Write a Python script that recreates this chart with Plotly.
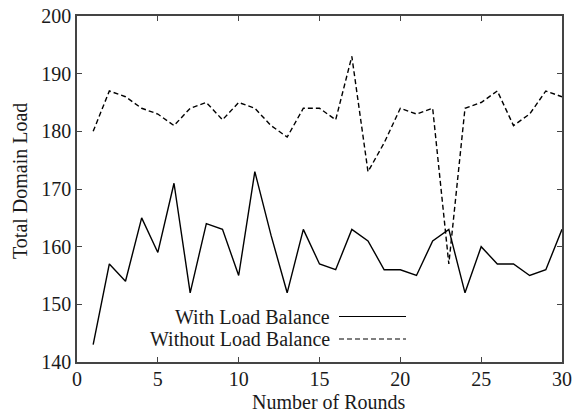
import plotly.graph_objects as go

rounds = list(range(1, 31))
with_lb = [143, 157, 154, 165, 159, 171, 152, 164, 163, 155,
           173, 162, 152, 163, 157, 156, 163, 161, 156, 156,
           155, 161, 163, 152, 160, 157, 157, 155, 156, 163]
without_lb = [180, 187, 186, 184, 183, 181, 184, 185, 182, 185,
              184, 181, 179, 184, 184, 182, 193, 173, 178, 184,
              183, 184, 157, 184, 185, 187, 181, 183, 187, 186]
series_names = ["With Load Balance", "Without Load Balance"]
x_ticks = [0, 5, 10, 15, 20, 25, 30]
y_ticks = [140, 150, 160, 170, 180, 190, 200]
x_title = "Number of Rounds"
y_title = "Total Domain Load"

FONT = "Liberation Serif"
FS = 20
TXT = "#1a1a1a"
fig = go.Figure()
fig.add_trace(go.Scatter(x=rounds, y=with_lb, mode="lines", name=series_names[0],
                         line=dict(color="black", width=1.4), showlegend=False))
fig.add_trace(go.Scatter(x=rounds, y=without_lb, mode="lines", name=series_names[1],
                         line=dict(color="black", width=1.4, dash="5px,3px"), showlegend=False))

axis_common = dict(showgrid=False, zeroline=False, showline=True, linecolor="#444",
                   linewidth=1.5, mirror="ticks", ticks="inside", ticklen=5,
                   tickcolor="#444", tickwidth=1, automargin=False,
                   tickfont=dict(family=FONT, size=FS, color=TXT))
fig.update_xaxes(range=[0, 30], tickvals=x_ticks, ticklabelstandoff=-2, **axis_common)
fig.update_yaxes(range=[140, 200], tickvals=y_ticks, **axis_common)

W, H = 573, 414
l, r, t, b = 77, 11, 16, 52
pw, ph = W - l - r, H - t - b
def px(xp):
    return (xp - l) / pw
def py(yp):
    return 1 - (yp - t) / ph

# axis titles placed as in the reference
fig.add_annotation(x=px(329), y=py(414), xref="paper", yref="paper", text=x_title,
                   showarrow=False, xanchor="center", yanchor="bottom", borderpad=0,
                   font=dict(family=FONT, size=FS, color=TXT))
fig.add_annotation(x=px(20), y=py(181), xref="paper", yref="paper", text=y_title,
                   showarrow=False, xanchor="center", yanchor="middle", textangle=-90,
                   font=dict(family=FONT, size=FS, color=TXT))

# gnuplot-style key: text right-aligned, line sample to the right
for i, (name, dash) in enumerate(zip(series_names, ["solid", "5px,3px"])):
    yk = 316.5 + 22.5 * i
    fig.add_annotation(x=px(332), y=py(yk), xref="paper", yref="paper", text=name,
                       showarrow=False, xanchor="right", yanchor="middle",
                       font=dict(family=FONT, size=FS, color=TXT))
    fig.add_shape(type="line", xref="paper", yref="paper", x0=px(339), x1=px(406),
                  y0=py(yk), y1=py(yk), line=dict(color="black", width=1.2, dash=dash))

fig.update_layout(width=W, height=H, margin=dict(l=l, r=r, t=t, b=b),
                  plot_bgcolor="white", paper_bgcolor="white",
                  font=dict(family=FONT, size=FS, color=TXT))
fig.write_html("out.html", config={"displayModeBar": False},
               post_script="document.body.style.margin='0';document.body.style.overflow='hidden';")
